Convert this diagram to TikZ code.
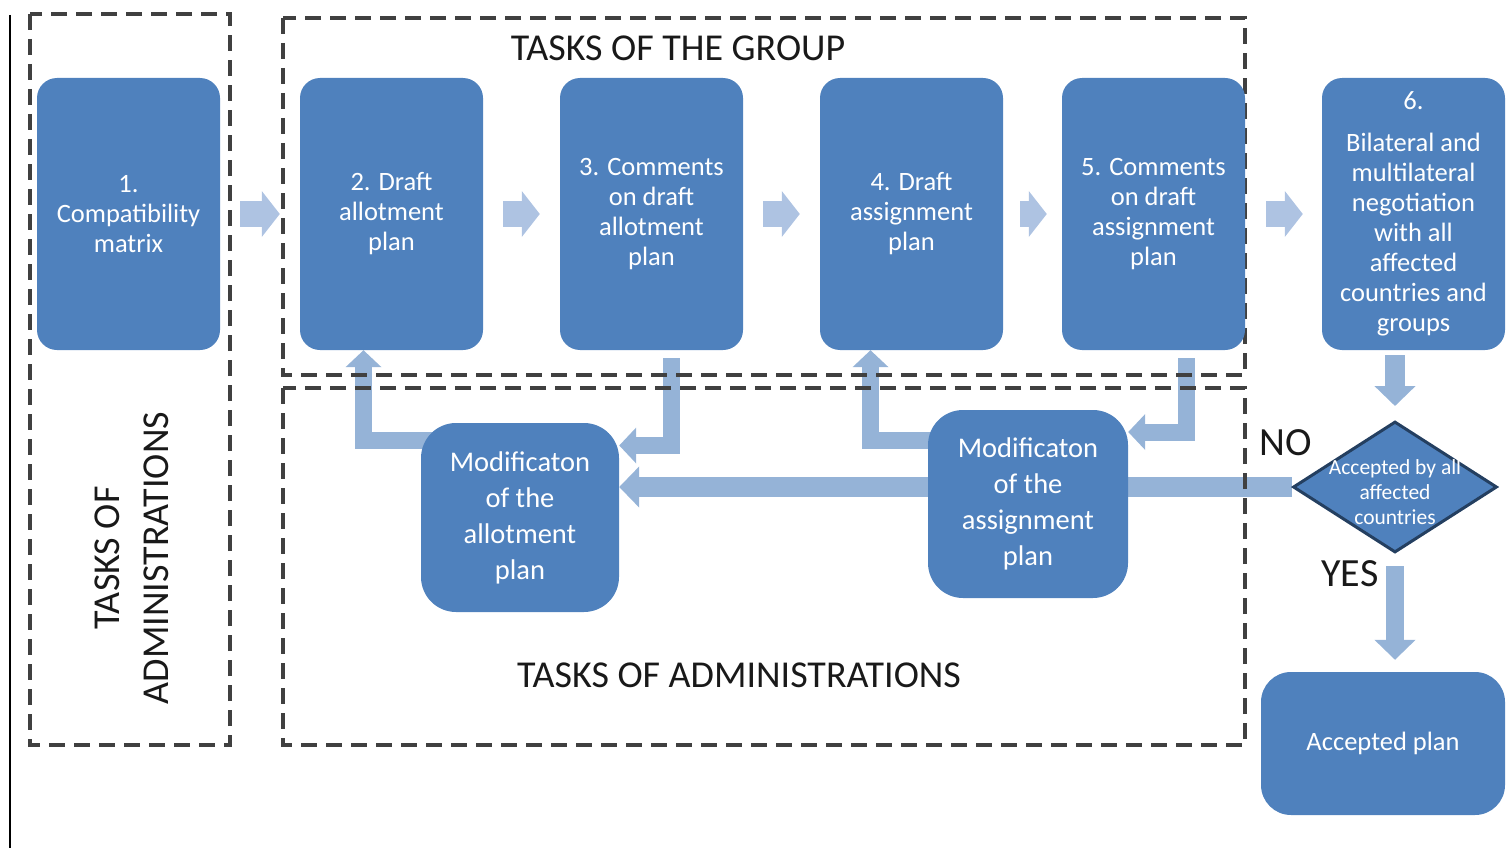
\documentclass[tikz,border=0pt]{standalone}
\usepackage{fontspec}
\setmainfont{Carlito}
\usetikzlibrary{arrows.meta,shapes.geometric,backgrounds}
\definecolor{boxblue}{HTML}{4F81BD}
\definecolor{arrowblue}{HTML}{95B3D7}
\definecolor{paleblue}{HTML}{AEC3E2}
\definecolor{framegray}{HTML}{404040}
\definecolor{diaedge}{HTML}{243F60}
\tikzstyle{stepbox} = [rectangle, rounded corners=20pt, fill=boxblue, text=white, align=center, minimum width=183pt, minimum height=272pt, inner sep=0pt, font=\fontsize{26.5}{30}\selectfont]
\tikzstyle{modbox} = [rectangle, rounded corners=35pt, fill=boxblue, text=white, align=center, minimum width=198pt, minimum height=189pt, inner sep=0pt, font=\fontsize{28.5}{36}\selectfont]
\tikzstyle{frame} = [draw=framegray, line width=3.5pt, dash pattern=on 16pt off 9pt]
\tikzstyle{heading} = [text=black!90, inner sep=0pt, font=\fontsize{38}{49}\selectfont]
\tikzstyle{fwdarrow} = [draw=paleblue, line width=26pt, -{Triangle[width=45pt,length=18pt]}]
\tikzstyle{backarrow} = [draw=arrowblue, line width=17pt, -{Triangle[width=35pt,length=17pt]}]
\tikzstyle{longarrow} = [draw=arrowblue, line width=20pt, -{Triangle[width=40pt,length=20pt]}]

\begin{document}
\begin{tikzpicture}[x=1pt, y=-1pt]
                \useasboundingbox (0,0) rectangle (1507,848);
                \draw [line width=1.5pt] (10,15) -- (10,848);
                % dashed frames
                \draw [frame] (30,14) rectangle (230,745);
                \draw [frame] (283,18) rectangle (1245,375);
                \draw [frame] (283,388) rectangle (1245,745);
                \node [heading] (grouptitle) at (678,48) {TASKS OF THE GROUP};
                \node [heading] (admintitle) at (739,675) {TASKS OF ADMINISTRATIONS};
                \node [heading, rotate=90, align=center] (adminside) at (132,558) {TASKS OF\\ADMINISTRATIONS};
                % steps
                \node [stepbox] (b1) at (128.5,214) {1.\\Compatibility\\matrix};
                \node [stepbox] (b2) at (391.5,214) {2. Draft\\allotment\\plan};
                \node [stepbox] (b3) at (651.5,214) {3. Comments\\on  draft\\allotment\\plan};
                \node [stepbox] (b4) at (911.5,214) {4. Draft\\assignment\\plan};
                \node [stepbox] (b5) at (1153.5,214) {5. Comments\\on draft\\assignment\\plan};
                \node [stepbox] (b6) at (1413.5,214) {6.\\[12pt]Bilateral  and\\multilateral\\negotiation\\with all\\affected\\countries and\\groups};
                \node [modbox] (ma) at (520,517.5) {Modificaton\\of the\\allotment\\plan};
                \node [modbox, minimum width=200pt, minimum height=188pt] (ms) at (1028,504) {Modificaton\\of the\\assignment\\plan};
                \node [diamond, draw=diaedge, line width=3pt, fill=boxblue, text=white, minimum width=204pt, minimum height=131pt, inner sep=0pt, align=center, font=\fontsize{21.5}{25}\selectfont] (dia) at (1395,487) {\makebox[0pt]{\rule{0pt}{26pt}Accepted by all}\\\makebox[0pt]{affected}\\\makebox[0pt]{countries}};
                \node [stepbox, rounded corners=30pt, minimum width=244pt, minimum height=143pt] (acc) at (1383,743.5) {Accepted plan};
                \node [heading, font=\fontsize{40}{44}\selectfont] (nolbl) at (1286,443) {NO};
                \node [heading, font=\fontsize{40}{44}\selectfont] (yeslbl) at (1350,574) {YES};
                % arrows
                \begin{pgfonlayer}{background}
                \draw [fwdarrow, shorten <=20pt, shorten >=20pt] (b1) -- (b2);
                \draw [fwdarrow, shorten <=20pt, shorten >=20pt] (b2) -- (b3);
                \draw [fwdarrow, shorten <=20pt, shorten >=20pt] (b3) -- (b4);
                \draw [fwdarrow, shorten <=17pt, shorten >=15pt] (b4) -- (b5);
                \draw [fwdarrow, shorten <=21pt, shorten >=19pt] (b5) -- (b6);
                \draw [longarrow, line width=20pt, shorten <=5pt, shorten >=14pt] (b6.south -| dia.north) -- (dia.north);
                \draw [longarrow, line width=18pt, shorten <=12pt, shorten >=12pt] (dia.south) -- (dia.south |- acc.north);
                \draw [backarrow, shorten <=8pt] ([xshift=20pt]b3.south) |- ([yshift=72pt]ma.east);
                \draw [backarrow] ([xshift=15pt,yshift=77pt]ma.west) -| ([xshift=-28pt]b2.south);
                \draw [backarrow, shorten <=8pt] ([xshift=33pt]b5.south) |- ([yshift=72pt]ms.east);
                \draw [backarrow] ([xshift=15pt,yshift=64pt]ms.west) -| ([xshift=-41pt]b4.south);
                \draw [longarrow] (dia.west) -- (dia.west -| ma.east);
                \end{pgfonlayer}
            \end{tikzpicture}
\end{document}
